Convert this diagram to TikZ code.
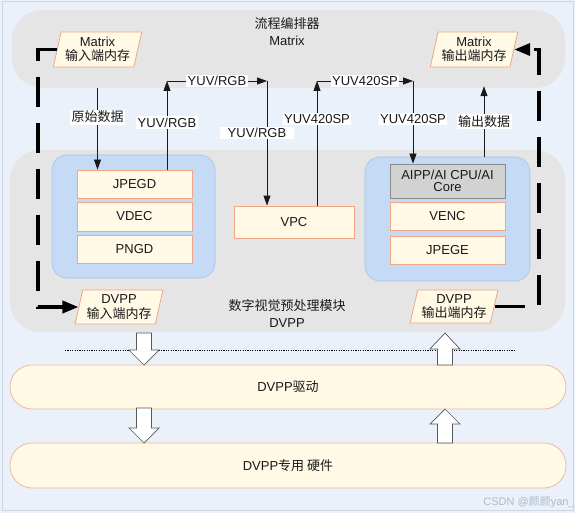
\documentclass[tikz,border=0pt]{standalone}
\usepackage{fontspec}
\setmainfont{Liberation Sans}
\newfontfamily\cjk{Noto Sans CJK SC}
\usetikzlibrary{arrows.meta,shapes.geometric}
\definecolor{bgc}{RGB}{234,241,250}
\definecolor{framec}{RGB}{205,215,228}
\definecolor{grayband}{RGB}{229,229,229}
\definecolor{bluebox}{RGB}{197,218,245}
\definecolor{blueedge}{RGB}{165,195,235}
\definecolor{cream}{RGB}{255,249,229}
\definecolor{salmon}{RGB}{240,165,135}
\definecolor{aigray}{RGB}{210,210,210}
\definecolor{aiedge}{RGB}{140,140,140}
\definecolor{txt}{RGB}{25,25,25}
\definecolor{wm}{RGB}{175,185,198}
\tikzset{
  base/.style={font=\fontsize{13}{15}\selectfont, text=txt},
  grayb/.style={fill=grayband, draw=none, rounded corners=30pt, inner sep=0pt},
  blueb/.style={fill=bluebox, draw=blueedge, line width=0.6pt, rounded corners=15pt, inner sep=0pt},
  unit/.style={base, fill=cream, draw=salmon, line width=0.8pt, minimum width=115pt, inner sep=0pt},
  aiunit/.style={base, fill=aigray, draw=aiedge, line width=0.8pt, minimum width=115pt, inner sep=0pt, align=center, font=\fontsize{13}{12}\selectfont},
  mem/.style={base, trapezium, trapezium left angle=75, trapezium right angle=105, trapezium stretches=true,
     fill=cream, draw=salmon, line width=0.8pt, inner sep=1pt, align=center, font=\fontsize{13}{14.5}\selectfont},
  band/.style={base, fill=cream, draw=salmon!80, line width=0.8pt, rounded corners=22pt, inner sep=0pt},
  thin/.style={draw=txt, line width=0.8pt, -{Triangle[length=10pt,width=7pt]}},
  dashline/.style={draw=black, line width=3.5pt, dash pattern=on 30pt off 16pt, -{Triangle[length=16pt,width=12pt]}},
  lbl/.style={base, fill=white, inner sep=1.5pt},
  barrstyle/.style={fill=white, draw=black!65, line width=0.7pt, line join=miter},
  pics/barr/.style n args={2}{code={
    \draw[barrstyle] (-7.5,0) -- (7.5,0) -- (7.5,#1) -- (15,#1) -- (0,#2) -- (-15,#1) -- (-7.5,#1) -- cycle;
  }}
}
\begin{document}
\begin{tikzpicture}[x=1pt,y=-1pt]
\useasboundingbox (0,0) rectangle (575,513);
\fill[bgc] (0,0) rectangle (575,513);
\draw[framec, line width=1pt] (2,2) rectangle (573,510);

% gray bands
\node[grayb, minimum width=553pt, minimum height=78pt] (mx) at (288.5,49) {};
\node[grayb, minimum width=555pt, minimum height=182pt] (dv) at (287.5,241) {};
\node[base, align=center, font=\fontsize{13}{17}\selectfont] (mxt) at (287,32) {{\cjk 流程编排器}\\Matrix};
\node[base, align=center, font=\fontsize{13}{17}\selectfont] (dvt) at (287,313.5) {{\cjk 数字视觉预处理模块}\\DVPP};

% blue containers
\node[blueb, minimum width=163pt, minimum height=123pt] (lb) at (133.5,216.5) {};
\node[blueb, minimum width=165pt, minimum height=124pt] (rb) at (447.5,219) {};

% units
\node[unit, minimum height=28pt] (jp) at (134.5,184) {JPEGD};
\node[unit, minimum height=29pt] (vd) at (134.5,216.5) {VDEC};
\node[unit, minimum height=28pt] (pn) at (134.5,249) {PNGD};
\node[aiunit, minimum height=34pt] (ai) at (447.5,181) {AIPP/AI CPU/AI\\Core};
\node[unit, minimum height=28pt] (ve) at (447.5,216) {VENC};
\node[unit, minimum height=28pt] (je) at (447.5,250) {JPEGE};
\node[unit, minimum width=120pt, minimum height=32pt] (vpc) at (294,222) {VPC};

% memories
\node[mem, minimum width=89pt, minimum height=35pt] (mi) at (97.5,49.5) {Matrix\\{\cjk 输入端内存}};
\node[mem, minimum width=88pt, minimum height=35pt] (mo) at (474,49.5) {Matrix\\{\cjk 输出端内存}};
\node[mem, minimum width=88pt, minimum height=34pt] (di) at (119,307) {DVPP\\{\cjk 输入端内存}};
\node[mem, minimum width=88pt, minimum height=33pt] (do) at (454,306.5) {DVPP\\{\cjk 输出端内存}};

% dashed memory paths
\coordinate (lc) at (38,0);
\coordinate (rc) at (539,0);
\draw[dashline] (mi.west) -- (mi.west -| lc) -- (lc |- di.west) -- (di.west);
\draw[dashline] (do.east) -- (do.east -| rc) -- (rc |- mo.east) -- (mo.east);

% data flow arrows
\coordinate (c1) at (167,81);
\coordinate (c2) at (267,81);
\coordinate (c3) at (317,81);
\coordinate (c4) at (413,81);
\coordinate (c5) at (484,0);
\draw[thin] (mi |- mx.south) -- node[lbl, pos=0.354]{\cjk 原始数据} (mi |- jp.north);
\draw[thin] (c1 |- jp.north) -- node[lbl, pos=0.53]{YUV/RGB} (c1);
\draw[thin] (c1) -- node[lbl]{YUV/RGB} (c2);
\draw[thin] (c2) -- node[lbl, pos=0.416, xshift=-10pt, inner xsep=8pt]{YUV/RGB} (c2 |- vpc.north);
\draw[thin] (c3 |- vpc.north) -- node[lbl, pos=0.696]{YUV420SP} (c3);
\draw[thin] (c3) -- node[lbl]{YUV420SP} (c4);
\draw[thin] (c4) -- node[lbl, pos=0.458]{YUV420SP} (c4 |- ai.north);
\draw[thin] (c5 |- rb.north) -- node[lbl, pos=0.5]{\cjk 输出数据} ([yshift=2pt]c5 |- mx.south);

% bottom layers
\node[band, minimum width=556pt, minimum height=44pt] (drv) at (288,387) {DVPP{\cjk 驱动}};
\node[band, minimum width=556pt, minimum height=45pt] (hw) at (288,465.5) {DVPP{\cjk 专用 硬件}};
\coordinate (dl) at (65,350);
\coordinate (dr) at (514,350);
\draw[black, line width=0.6pt, dash pattern=on 1.2pt off 1.2pt] (dl) -- (dr);
\pic at (144,333) {barr={17}{32}};
\pic at (144,408) {barr={20}{35}};
\pic[rotate=180] at (445,365) {barr={16}{32}};
\pic[rotate=180] at (445,443) {barr={19}{34}};

\node[font=\fontsize{11}{12}\selectfont, text=wm] (wmk) at (529,502) {CSDN @{\cjk 颜颜}yan\_};
\end{tikzpicture}
\end{document}
